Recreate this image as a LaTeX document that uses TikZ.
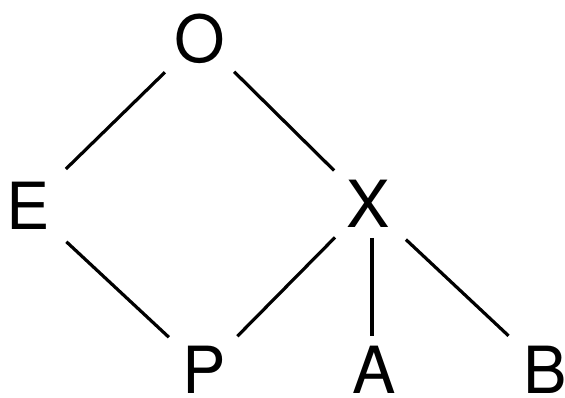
\documentclass[tikz,border=0pt]{standalone}
\usepackage{fontspec}
\setmainfont{TeX Gyre Heros}
\begin{document}
\begin{tikzpicture}[x=1pt,y=-1pt,
  lbl/.style={inner sep=0pt, text depth=0pt, font=\fontsize{65}{70}\selectfont},
  edge/.style={line width=3.2pt, black}]
\useasboundingbox (0,0) rectangle (565,398);
\node[lbl] (O) at (200,38) {O};
\node[lbl] (E) at (28,206) {E};
\node[lbl] (X) at (368,204) {X};
\node[lbl] (P) at (204,370) {P};
\node[lbl] (A) at (374,370) {A};
\node[lbl] (B) at (545,370) {B};
\draw[edge, shorten <=49pt, shorten >=53pt] (O.center) -- (E.center);
\draw[edge, shorten <=48pt, shorten >=47.6pt] (O.center) -- (X.center);
\draw[edge, shorten <=52.5pt, shorten >=48pt] (E.center) -- (P.center);
\draw[edge, shorten <=47pt, shorten >=47.5pt] (X.center) -- (P.center);
\draw[edge, shorten <=34pt, shorten >=34pt] ([xshift=4pt]X.center) -- ([xshift=-2pt]A.center);
\draw[edge, shorten <=52pt, shorten >=50pt] (X.center) -- (B.center);
\end{tikzpicture}
\end{document}
